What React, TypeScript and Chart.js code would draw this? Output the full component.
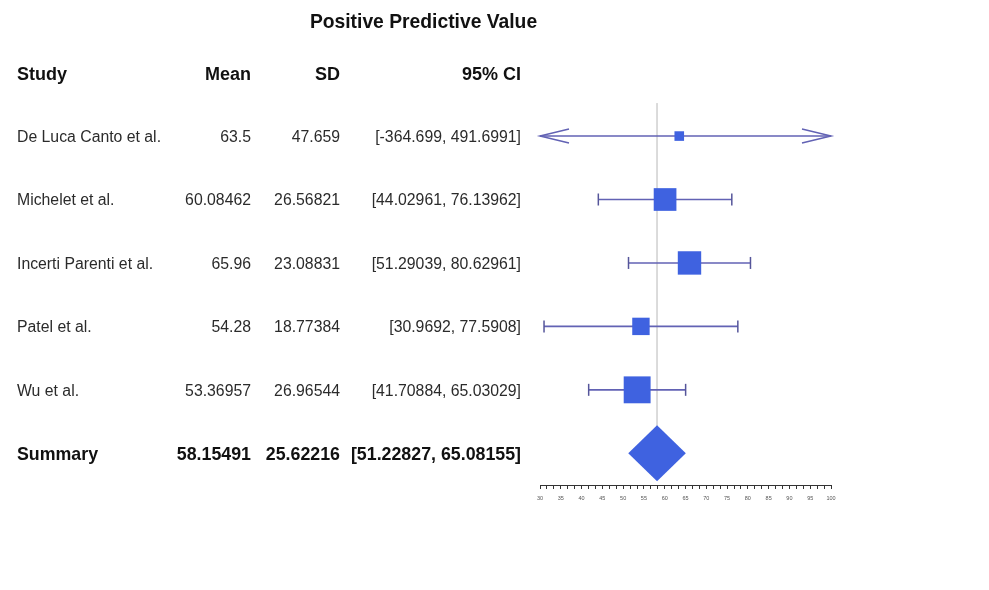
import React, { useEffect, useRef } from 'react';
import { Chart, registerables } from 'chart.js';

Chart.register(...registerables);

// ---------- data ----------
const chartTitle = 'Positive Predictive Value';
const headers = ['Study', 'Mean', 'SD', '95% CI'];
const studies = ['De Luca Canto et al.', 'Michelet et al.', 'Incerti Parenti et al.', 'Patel et al.', 'Wu et al.'];
const means = [63.5, 60.08462, 65.96, 54.28, 53.36957];
const sds = [47.659, 26.56821, 23.08831, 18.77384, 26.96544];
const ciLow = [-364.699, 44.02961, 51.29039, 30.9692, 41.70884];
const ciHigh = [491.6991, 76.13962, 80.62961, 77.5908, 65.03029];
const weights = [9.6, 22.7, 23.4, 17.4, 26.9];
const summaryLabel = 'Summary';
const summaryMean = 58.15491;
const summarySd = 25.62216;
const summaryLow = 51.22827;
const summaryHigh = 65.08155;
const axisLabels = [30, 35, 40, 45, 50, 55, 60, 65, 70, 75, 80, 85, 90, 95, 100];

// ---------- styles ----------
const FONT = '"Liberation Sans", Arial, sans-serif';
const BOX_COLOR = '#3f62e0';
const LINE_COLOR = '#6262b4';
const CAP_COLOR = '#55559a';
const REF_COLOR = '#d6d6d6';
const TEXT_COLOR = '#2b2b2b';
const BOX_PX_PER_WEIGHT = 1.0;
const MINOR_PER_LABEL = 3;

const tickValues: number[] = [];
for (let k = 0; k < axisLabels.length - 1; k++) {
  const a = axisLabels[k];
  const b = axisLabels[k + 1];
  for (let m = 0; m < MINOR_PER_LABEL; m++) tickValues.push(a + ((b - a) * m) / MINOR_PER_LABEL);
}
tickValues.push(axisLabels[axisLabels.length - 1]);

const summaryRow = studies.length;

const forestPlugin = {
  id: 'forestPlugin',
  afterDatasetsDraw(chart: any) {
    const { ctx, chartArea, scales } = chart;
    const xs = scales.x;
    const ys = scales.y;
    ctx.save();
    // caps and arrows
    ctx.lineWidth = 1.5;
    for (let i = 0; i < studies.length; i++) {
      const y = ys.getPixelForValue(i);
      const ends = [
        { v: ciLow[i], dir: 1, edge: chartArea.left, out: ciLow[i] < xs.min },
        { v: ciHigh[i], dir: -1, edge: chartArea.right, out: ciHigh[i] > xs.max },
      ];
      for (const e of ends) {
        if (e.out) {
          ctx.strokeStyle = LINE_COLOR;
          ctx.beginPath();
          ctx.moveTo(e.edge + e.dir * 29, y - 7);
          ctx.lineTo(e.edge, y);
          ctx.lineTo(e.edge + e.dir * 29, y + 7);
          ctx.stroke();
        } else {
          const x = xs.getPixelForValue(e.v);
          ctx.strokeStyle = CAP_COLOR;
          ctx.beginPath();
          ctx.moveTo(x, y - 6);
          ctx.lineTo(x, y + 6);
          ctx.stroke();
        }
      }
    }
    // summary diamond
    const sy = ys.getPixelForValue(summaryRow);
    const half = ys.getPixelForValue(summaryRow + 0.44) - sy;
    ctx.fillStyle = BOX_COLOR;
    ctx.beginPath();
    ctx.moveTo(xs.getPixelForValue(summaryLow), sy);
    ctx.lineTo(xs.getPixelForValue(summaryMean), sy - half);
    ctx.lineTo(xs.getPixelForValue(summaryHigh), sy);
    ctx.lineTo(xs.getPixelForValue(summaryMean), sy + half);
    ctx.closePath();
    ctx.fill();
    ctx.restore();
  },
  afterDraw(chart: any) {
    const { ctx, scales } = chart;
    const ys = scales.y;
    const dy = 1.5;
    ctx.save();
    ctx.textBaseline = 'middle';
    // title
    ctx.fillStyle = '#111';
    ctx.font = `bold 19.3px ${FONT}`;
    ctx.textAlign = 'center';
    ctx.fillText(chartTitle, 423.5, 22.5);
    // headers
    const colX = [17, 251, 340, 521];
    const colAlign = ['left', 'right', 'right', 'right'];
    ctx.font = `bold 18px ${FONT}`;
    headers.forEach((h, c) => {
      ctx.textAlign = colAlign[c];
      ctx.fillText(h, colX[c], 75.5);
    });
    // rows
    ctx.fillStyle = TEXT_COLOR;
    ctx.font = `15.8px ${FONT}`;
    for (let i = 0; i < studies.length; i++) {
      const y = ys.getPixelForValue(i) + dy;
      const cells = [studies[i], String(means[i]), String(sds[i]), `[${ciLow[i]}, ${ciHigh[i]}]`];
      cells.forEach((t, c) => {
        ctx.textAlign = colAlign[c];
        ctx.fillText(t, colX[c], y);
      });
    }
    // summary row
    ctx.fillStyle = '#111';
    ctx.font = `bold 17.8px ${FONT}`;
    const sy = ys.getPixelForValue(summaryRow) + dy;
    const sCells = [summaryLabel, String(summaryMean), String(summarySd), `[${summaryLow}, ${summaryHigh}]`];
    sCells.forEach((t, c) => {
      ctx.textAlign = colAlign[c];
      ctx.fillText(t, colX[c], sy);
    });
    ctx.restore();
  },
};

export default function App() {
  const ref = useRef<HTMLCanvasElement | null>(null);

  useEffect(() => {
    if (!ref.current) return;
    const datasets: any[] = [];
    datasets.push({
      label: 'studies',
      data: means.map((m, i) => ({ x: m, y: i })),
      pointStyle: 'rect',
      pointRadius: weights.map((w) => (w * BOX_PX_PER_WEIGHT) / Math.SQRT2),
      pointHoverRadius: weights.map((w) => (w * BOX_PX_PER_WEIGHT) / Math.SQRT2),
      backgroundColor: BOX_COLOR,
      borderWidth: 0,
      showLine: false,
      order: 0,
    });
    studies.forEach((s, i) => {
      datasets.push({
        label: s,
        data: [
          { x: ciLow[i], y: i },
          { x: ciHigh[i], y: i },
        ],
        showLine: true,
        borderColor: LINE_COLOR,
        borderWidth: 1.6,
        pointRadius: 0,
        order: 1,
      });
    });
    datasets.push({
      label: 'reference',
      data: [
        { x: summaryMean, y: -0.52 },
        { x: summaryMean, y: summaryRow },
      ],
      showLine: true,
      borderColor: REF_COLOR,
      borderWidth: 1,
      pointRadius: 0,
      order: 2,
    });

    const chart = new Chart(ref.current, {
      type: 'scatter',
      data: { datasets },
      options: {
        animation: false,
        responsive: false,
        devicePixelRatio: 1,
        layout: { padding: { left: 540, right: 158, top: 98, bottom: 75 } },
        plugins: { legend: { display: false }, tooltip: { enabled: false }, title: { display: false } },
        events: [],
        scales: {
          x: {
            type: 'linear',
            min: axisLabels[0],
            max: axisLabels[axisLabels.length - 1],
            position: 'bottom',
            afterBuildTicks: (scale: any) => {
              scale.ticks = tickValues.map((value) => ({ value }));
            },
            afterFit: (scale: any) => {
              scale.height = 30;
            },
            grid: { drawOnChartArea: false, drawTicks: true, tickLength: 4, color: '#333', lineWidth: 1 },
            border: { display: true, color: '#333', width: 1 },
            ticks: {
              autoSkip: false,
              maxRotation: 0,
              minRotation: 0,
              padding: 6,
              color: '#555',
              font: { size: 5.5, family: FONT },
              callback: (v: any) => {
                const hit = axisLabels.find((l) => Math.abs(l - Number(v)) < 1e-6);
                return hit === undefined ? '' : String(hit);
              },
            },
          },
          y: { type: 'linear', reverse: true, min: -0.6, max: 5.5, display: false },
        },
      } as any,
      plugins: [forestPlugin],
    });
    return () => chart.destroy();
  }, []);

  return (
    <div style={{ position: 'absolute', left: 0, top: 0, width: 989, height: 590, background: '#fff' }}>
      <canvas ref={ref} width={989} height={590} style={{ display: 'block' }} />
    </div>
  );
}
